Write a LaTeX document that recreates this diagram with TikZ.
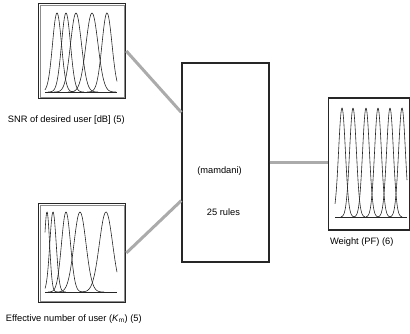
\documentclass[tikz,border=0pt]{standalone}
\usepackage{fontspec}
\setmainfont{Liberation Sans}
\usetikzlibrary{positioning, calc}

\begin{document}
\begin{tikzpicture}[
  x=1pt, y=-1pt, font=\fontsize{9.3}{10}\selectfont, node distance=4pt,
  mfbox/.style={draw=black!85, line width=1.6pt, inner sep=0pt, minimum width=87pt},
  fisbox/.style={draw=black!85, line width=1.4pt, inner sep=0pt,
                 minimum width=87pt, minimum height=199pt},
  outbox/.style={draw=black!85, line width=1.4pt, inner sep=0pt,
                 minimum width=81pt, minimum height=132pt},
  frame/.style={black!45, line width=0.6pt},
  caption/.style={font=\fontsize{9.3}{10}\selectfont, inner sep=2pt},
  mf/.style={black!85, line width=0.6pt},
  base/.style={black!85, line width=0.7pt},
  link/.style={black!33, line width=3pt},
]
\useasboundingbox (0,0) rectangle (410,333);

% ---- the four blocks ----
\node[mfbox, minimum height=95pt]  (snr)   at (82,51)      {};
\node[mfbox, minimum height=99pt]  (neff)  at (82,253)     {};
\node[fisbox]                      (rules) at (225.5,162.5) {};
\node[outbox]                      (wgt)   at (369,164)    {};
% inner rim of the input blocks
\foreach \b in {snr, neff}
  \draw[frame] ($(\b.north west)+(2.4,2.4)$) rectangle ($(\b.south east)+(-2.4,-2.4)$);

% ---- captions ----
\node[caption, below=14pt of snr.south west, anchor=north west, xshift=-32pt] (snrl)
  {SNR of desired user [dB] (5)};
\node[caption, below=9pt of neff.south west, anchor=north west, xshift=-34pt] (neffl)
  {Effective number of user (\textit{K}\textsubscript{m}) (5)};
\node[caption, below=5pt of wgt.south west, anchor=north west, xshift=0pt] (wgtl)
  {Weight (PF) (6)};
\node[caption] (kind) at ($(rules.center)+(-6,9)$)  {(mamdani)};
\node[caption] (nrul) at ($(rules.center)+(-2,50)$) {25 rules};

% ---- links (grey) ----
\draw[link] (snr.east)  -- ($(rules.north west)!0.25!(rules.south west)$);
\draw[link] (neff.east) -- ($(rules.north west)!0.69!(rules.south west)$);
\draw[link] (rules.east) -- (rules.east -| wgt.west);

% ---- membership functions: input 1 ----
\draw[base] (45,92) -- (117,92);
\foreach \pk/\sg in {57/4.5, 66/4.5, 76/5.5, 92/6, 107/5} {
  \pgfmathsetmacro\lo{max(45,\pk-4*\sg)}
  \pgfmathsetmacro\hi{min(117,\pk+4*\sg)}
  \draw[mf] plot[domain=\lo:\hi, samples=60, smooth]
    (\x, {92-79*exp(-((\x-\pk)^2)/(2*\sg*\sg))});
}

% ---- membership functions: input 2 ----
\draw[base] (45,292) -- (117,292);
\foreach \pk/\sg in {47/2.6, 53/3.2, 66/4.5, 80/6, 106/6.6} {
  \pgfmathsetmacro\lo{max(45,\pk-4*\sg)}
  \pgfmathsetmacro\hi{min(117,\pk+4*\sg)}
  \draw[mf] plot[domain=\lo:\hi, samples=60, smooth]
    (\x, {292-80*exp(-((\x-\pk)^2)/(2*\sg*\sg))});
}

% ---- membership functions: output ----
\draw[base] (335,217) -- (407,217);
\foreach \pk in {342, 353, 366, 378, 390, 402} {
  \pgfmathsetmacro\lo{max(335,\pk-12)}
  \pgfmathsetmacro\hi{min(407,\pk+12)}
  \draw[mf] plot[domain=\lo:\hi, samples=60, smooth]
    (\x, {217-109*exp(-((\x-\pk)^2)/(2*3.4*3.4))});
}

\end{tikzpicture}
\end{document}
